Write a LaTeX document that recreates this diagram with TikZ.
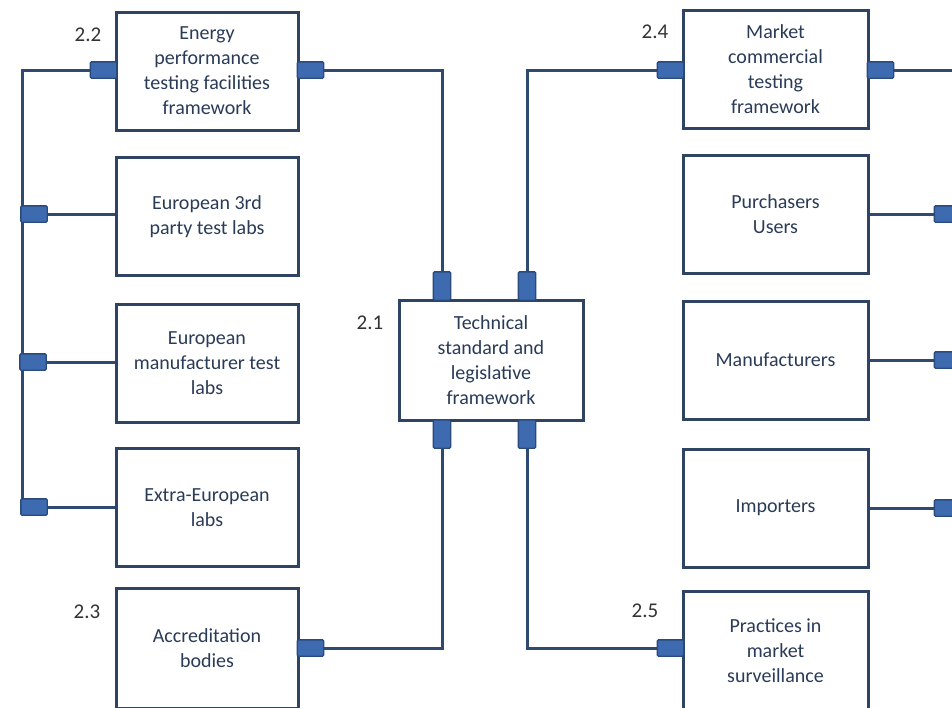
\documentclass[tikz,border=0pt]{standalone}
\usepackage{fontspec}
\setmainfont{Carlito}
\definecolor{boxline}{HTML}{2F4463}
\definecolor{txt}{HTML}{2A3B58}
\definecolor{conn}{HTML}{2E4A70}
\definecolor{tabfill}{HTML}{3E6BB0}
\definecolor{tabline}{HTML}{2A4A7C}
\definecolor{numc}{HTML}{333333}
\begin{document}
\begin{tikzpicture}[x=1pt,y=-1pt,
  box/.style={draw=boxline,line width=3pt,fill=white,align=center,text=txt,
    font=\fontsize{20}{25}\selectfont,inner sep=0pt},
  lbox/.style={box,minimum width=182pt,minimum height=118pt},
  rbox/.style={box,minimum width=185pt,minimum height=118pt},
  htab/.style={draw=tabline,line width=1.3pt,fill=tabfill,minimum width=25pt,minimum height=15pt,inner sep=0pt,rounded corners=1pt},
  vtab/.style={draw=tabline,line width=1.3pt,fill=tabfill,minimum width=16pt,minimum height=27pt,inner sep=0pt,rounded corners=1pt},
  wire/.style={draw=conn,line width=3pt},
  num/.style={text=numc,font=\fontsize{21}{24}\selectfont,inner sep=0pt}]
\useasboundingbox (0,0) rectangle (952,707);
\clip (0,0) rectangle (952,707);
\fill[white] (0,0) rectangle (952,707);

% boxes
\node[lbox] (E) at (207,71) {Energy\\performance\\testing facilities\\framework};
\node[lbox] (L3) at (207,216.5) {European 3rd\\party test labs};
\node[lbox] (LM) at (207,363) {European\\manufacturer test\\labs};
\node[lbox] (LX) at (207,507.5) {Extra-European\\labs};
\node[box,minimum width=182pt,minimum height=120pt] (A) at (207,648) {Accreditation\\bodies};
\node[rbox] (M) at (775.5,69) {Market\\commercial\\testing\\framework};
\node[rbox] (P) at (775.5,214.5) {Purchasers\\Users};
\node[rbox] (MF) at (775.5,360) {Manufacturers};
\node[rbox] (I) at (775.5,508) {Importers};
\node[box,minimum width=185pt,minimum height=120pt] (PM) at (775.5,651) {Practices in\\market\\surveillance};
\node[box,minimum width=184pt,minimum height=120pt] (C) at (491,360) {Technical\\standard and\\legislative\\framework};

% tabs
\node[htab] (tEw) at (103.5,70) {};
\node[htab] (tEe) at (310.5,70) {};
\node[htab] (tL3) at (34,214) {};
\node[htab] (tLM) at (33,362) {};
\node[htab] (tLX) at (34,507) {};
\node[htab] (tA) at (310.5,648) {};
\node[vtab] (tCtl) at (442,286) {};
\node[vtab] (tCtr) at (527,286) {};
\node[vtab] (tCbl) at (442,434) {};
\node[vtab] (tCbr) at (527,434) {};
\node[htab] (tMw) at (670.5,70) {};
\node[htab] (tMe) at (880.5,70) {};
\node[htab] (tP) at (947.5,214) {};
\node[htab] (tMF) at (947.5,360) {};
\node[htab] (tI) at (947.5,508) {};
\node[htab] (tPM) at (670.5,648) {};

% bus corners
\coordinate (bTop) at (22,70);
\coordinate (bBot) at (22,507);
\coordinate (c1) at (442,70);
\coordinate (c2) at (527,70);
\coordinate (c3) at (442,648);
\coordinate (c4) at (527,648);
\coordinate (rEdge) at (960,70);

% wires
\path[wire] (tEw.west) -- (bTop) -- (bBot) -- (tLX.west);
\path[wire] (tL3.east) -- (L3.west |- tL3.east);
\path[wire] (tLM.east) -- (LM.west |- tLM.east);
\path[wire] (tLX.east) -- (LX.west |- tLX.east);
\path[wire] (tEe.east) -- (c1) -- (tCtl.north);
\path[wire] (tCbl.south) -- (c3) -- (tA.east);
\path[wire] (tCtr.north) -- (c2) -- (tMw.west);
\path[wire] (tCbr.south) -- (c4) -- (tPM.west);
\path[wire] (tMe.east) -- (rEdge);
\path[wire] (P.east |- tP.west) -- (tP.west);
\path[wire] (MF.east |- tMF.west) -- (tMF.west);
\path[wire] (I.east |- tI.west) -- (tI.west);

% redraw tabs over wires
\foreach \t in {tEw,tEe,tL3,tLM,tLX,tA,tCtl,tCtr,tCbl,tCbr,tMw,tMe,tP,tMF,tI,tPM}{
  \path[draw=tabline,line width=1.3pt,fill=tabfill,rounded corners=1pt] (\t.south west) rectangle (\t.north east);
}

% numbers
\node[num] (n22) at (88,35) {2.2};
\node[num] (n24) at (655,32) {2.4};
\node[num] (n21) at (370,323) {2.1};
\node[num] (n23) at (87,612) {2.3};
\node[num] (n25) at (645,611) {2.5};
\end{tikzpicture}
\end{document}
